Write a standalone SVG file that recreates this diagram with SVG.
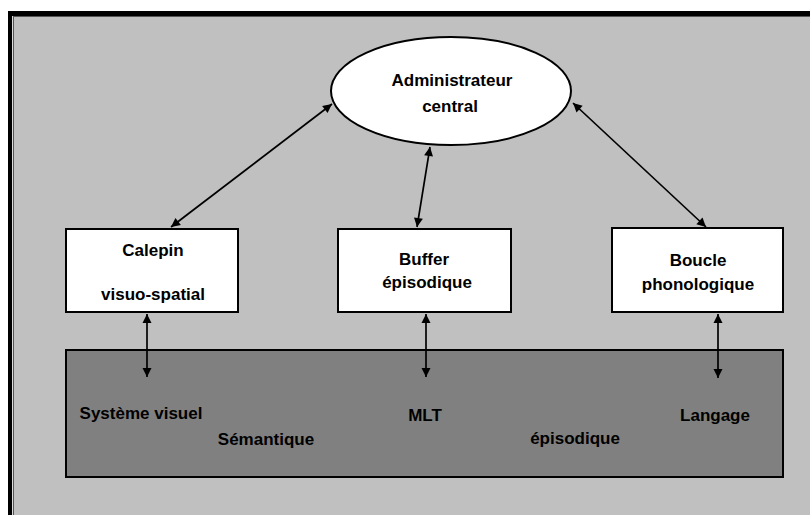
<svg xmlns="http://www.w3.org/2000/svg" width="810" height="515" viewBox="0 0 810 515">
<defs>
<marker id="ah" viewBox="0 0 10 10" refX="10" refY="5" markerWidth="10" markerHeight="9" markerUnits="userSpaceOnUse" orient="auto-start-reverse" overflow="visible">
<path d="M0,0 L10,5 L0,10 z" fill="#000"/>
</marker>
<style>
text{font-family:"Liberation Sans",Arial,sans-serif;font-weight:bold;font-size:17px;fill:#000;text-anchor:middle}
.box{fill:#fff;stroke:#000;stroke-width:2}
.con line{stroke:#000;stroke-width:1.7;marker-start:url(#ah);marker-end:url(#ah)}
</style>
</defs>
<rect x="0" y="0" width="810" height="515" fill="#fff"/>
<rect x="8" y="11" width="802" height="504" fill="#000"/>
<rect x="12" y="16" width="798" height="499" fill="#dcdcdc"/>
<rect x="13" y="16" width="797" height="499" fill="#555"/>
<rect x="14" y="17" width="796" height="498" fill="#c0c0c0"/>
<g id="mlt">
<rect x="66" y="350" width="717" height="127" fill="#808080" stroke="#000" stroke-width="2"/>
<text x="141" y="419">Système visuel</text>
<text x="266" y="445">Sémantique</text>
<text x="425" y="421">MLT</text>
<text x="575" y="444">épisodique</text>
<text x="715" y="421">Langage</text>
</g>
<g id="admin">
<ellipse cx="451" cy="91" rx="120" ry="54" class="box"/>
<text x="452" y="86">Administrateur</text>
<text x="450" y="112">central</text>
</g>
<g id="calepin">
<rect x="66" y="229" width="172" height="83" class="box"/>
<text x="153" y="256">Calepin</text>
<text x="153" y="300">visuo-spatial</text>
</g>
<g id="buffer">
<rect x="338" y="229" width="173" height="83" class="box"/>
<text x="424" y="265">Buffer</text>
<text x="427" y="288">épisodique</text>
</g>
<g id="boucle">
<rect x="612" y="228" width="171" height="84" class="box"/>
<text x="698" y="266">Boucle</text>
<text x="698" y="290">phonologique</text>
</g>
<g id="connectors" class="con">
<line x1="332" y1="104" x2="171" y2="227"/>
<line x1="430" y1="147" x2="417" y2="227"/>
<line x1="573" y1="103" x2="706" y2="227"/>
<line x1="147" y1="314" x2="147" y2="377"/>
<line x1="426" y1="314" x2="426" y2="377"/>
<line x1="718" y1="314" x2="718" y2="378"/>
</g>
</svg>
